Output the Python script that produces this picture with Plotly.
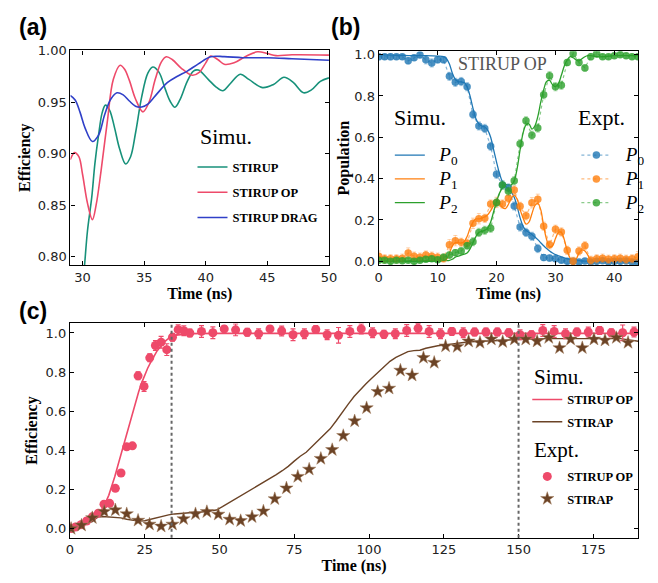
import plotly.graph_objects as go

# ---------------- Panel (a): simulated efficiency vs time ----------------
a_stirup_t = [29.95, 30.15, 30.4, 30.75, 31.0, 31.3, 31.6, 31.86, 32.2, 32.6, 33.0, 33.5, 33.9, 34.3, 34.8, 35.3, 35.7, 36.2,
              36.7, 37.1, 37.5, 37.9, 38.5, 39.0, 39.4, 40.2, 40.8, 41.4, 42.0, 42.8, 43.5, 44.6, 45.5, 46.35, 47.1,
              47.94, 48.6, 49.3, 50.0]
a_stirup_v = [0.765, 0.790, 0.825, 0.858, 0.890, 0.918, 0.940, 0.947, 0.942, 0.925, 0.905, 0.890, 0.897, 0.920, 0.955,
              0.978, 0.984, 0.979, 0.963, 0.951, 0.945, 0.952, 0.970, 0.980, 0.981, 0.972, 0.965, 0.961, 0.968, 0.977,
              0.972, 0.964, 0.967, 0.974, 0.969, 0.959, 0.962, 0.970, 0.9735]
a_op_t = [29.0, 29.35, 29.7, 30.0, 30.4, 30.8, 31.1, 31.5, 32.0, 32.5, 33.05, 33.4, 33.8, 34.3, 34.9, 35.4, 35.9, 36.4,
          36.8, 37.3, 38.0, 38.9, 39.5, 40.0, 40.4, 41.0, 41.5, 42.3, 43.2, 44.2, 45.0, 45.7, 47.0, 50.0]
a_op_v = [0.894, 0.901, 0.897, 0.880, 0.852, 0.836, 0.850, 0.883, 0.930, 0.972, 0.9857, 0.982, 0.971, 0.953, 0.9405,
          0.950, 0.972, 0.989, 0.9939, 0.991, 0.983, 0.976, 0.979, 0.988, 0.9946, 0.991, 0.9866, 0.988, 0.994, 0.9987,
          0.997, 0.995, 0.9958, 0.9955]
a_drag_t = [29.0, 29.4, 29.8, 30.2, 30.8, 31.3, 31.8, 32.3, 32.8, 33.3, 33.8, 34.3, 34.8, 35.3, 35.9, 36.9, 37.7, 38.5,
            39.4, 40.4, 41.5, 43.0, 45.0, 47.0, 50.0]
a_drag_v = [0.9564, 0.952, 0.940, 0.925, 0.9118, 0.918, 0.938, 0.953, 0.959, 0.957, 0.951, 0.946, 0.9452, 0.948, 0.956,
            0.969, 0.975, 0.980, 0.987, 0.9939, 0.994, 0.993, 0.9929, 0.992, 0.9905]

# ---------------- Panel (b): STIRUP OP populations ----------------
b_t_exp = [0, 1, 2, 3, 4, 5, 6, 7, 8, 9, 10, 11, 12, 13, 14, 15, 16, 17, 18, 19, 20, 21, 22,
           23, 24, 25, 26, 27, 28, 29, 30, 31, 32, 33, 34, 35, 36, 37, 38, 39, 40, 41, 42, 43, 44]
b_p0_exp = [0.99, 0.99, 0.99, 0.99, 0.99, 0.97, 0.985, 0.998, 0.975, 0.96, 0.975, 0.975, 0.895, 0.866, 0.87, 0.845,
            0.71, 0.655, 0.643, 0.557, 0.421, 0.369, 0.355, 0.268, 0.166, 0.14, 0.121, 0.062, 0.018, 0.016, 0.013,
            0.005, 0.0, 0.0, -0.003, 0.002, -0.003, 0.0, 0.003, -0.002, 0.0, 0.0, 0.002, -0.003, -0.004]
b_p1_exp = [0.025, 0.012, 0.012, 0.012, 0.015, 0.04, 0.025, 0.02, 0.03, 0.025, 0.02, 0.015, 0.08, 0.10, 0.092, 0.088,
            0.184, 0.206, 0.208, 0.277, 0.285, 0.277, 0.305, 0.345, 0.266, 0.22, 0.283, 0.30, 0.17, 0.08, 0.155, 0.142,
            0.053, 0.0, 0.05, 0.075, 0.005, 0.012, 0.015, 0.01, 0.012, 0.015, 0.01, 0.012, 0.022]
b_p2_exp = [0.005, 0.005, 0.0, 0.005, 0.003, 0.005, 0.0, 0.005, 0.01, 0.012, 0.008, 0.02, 0.03, 0.042, 0.05, 0.075,
            0.095, 0.14, 0.15, 0.16, 0.285, 0.369, 0.34, 0.39, 0.569, 0.68, 0.61, 0.645, 0.806, 0.898, 0.845, 0.852,
            0.962, 1.005, 0.962, 0.936, 0.99, 1.005, 0.99, 0.99, 0.995, 1.0, 0.995, 0.99, 0.99]
b_p0_err = [0.015, 0.012, 0.015, 0.012, 0.012, 0.015, 0.012, 0.012, 0.02, 0.02, 0.015, 0.015, 0.02, 0.02, 0.02, 0.02,
            0.02, 0.02, 0.02, 0.02, 0.02, 0.02, 0.02, 0.02, 0.02, 0.02, 0.02, 0.02, 0.015, 0.015, 0.012, 0.012,
            0.01, 0.01, 0.01, 0.01, 0.01, 0.01, 0.01, 0.01, 0.01, 0.01, 0.01, 0.01, 0.01]
b_p1_err = [0.025, 0.02, 0.02, 0.02, 0.02, 0.025, 0.02, 0.02, 0.02, 0.02, 0.02, 0.02, 0.025, 0.025, 0.02, 0.02,
            0.025, 0.025, 0.02, 0.02, 0.025, 0.02, 0.02, 0.02, 0.02, 0.02, 0.025, 0.025, 0.02, 0.02, 0.02, 0.02,
            0.02, 0.02, 0.02, 0.02, 0.02, 0.02, 0.02, 0.02, 0.02, 0.02, 0.02, 0.02, 0.025]
b_p2_err = [0.01, 0.01, 0.01, 0.01, 0.01, 0.01, 0.01, 0.01, 0.012, 0.012, 0.012, 0.015, 0.015, 0.015, 0.015, 0.015,
            0.02, 0.02, 0.02, 0.02, 0.02, 0.02, 0.02, 0.02, 0.02, 0.02, 0.02, 0.02, 0.02, 0.02, 0.02, 0.02,
            0.015, 0.015, 0.015, 0.015, 0.015, 0.015, 0.012, 0.012, 0.012, 0.012, 0.012, 0.012, 0.012]

b_t_sim = [0, 2, 4, 6, 8, 10, 11, 11.5, 12, 12.5, 13, 13.5, 14, 14.5, 15, 15.5, 16, 16.5, 17, 17.5, 18, 18.5, 19,
           19.5, 20, 20.5, 21, 21.5, 22, 22.5, 23, 23.5, 24, 24.5, 25, 25.5, 26, 26.5, 27, 27.5, 28, 28.5, 29, 29.5,
           30, 30.5, 31, 31.5, 32, 32.5, 33, 33.5, 34, 34.5, 35, 35.5, 36, 37, 38, 40, 42, 44]
b_p0_sim = [1.0, 0.998, 0.996, 0.995, 0.995, 0.993, 0.99, 0.98, 0.955, 0.91, 0.88, 0.87, 0.868, 0.865, 0.845, 0.80,
            0.74, 0.69, 0.665, 0.655, 0.65, 0.635, 0.60, 0.54, 0.48, 0.425, 0.385, 0.365, 0.35, 0.335, 0.31, 0.265,
            0.21, 0.17, 0.15, 0.14, 0.13, 0.118, 0.105, 0.09, 0.075, 0.062, 0.05, 0.04, 0.032, 0.027, 0.022, 0.017,
            0.013, 0.01, 0.007, 0.005, 0.003, 0.002, 0.001, 0.0, 0.0, 0.0, 0.0, 0.002, 0.001, 0.0]
b_p1_sim = [0.0, 0.0, 0.001, 0.002, 0.003, 0.004, 0.005, 0.01, 0.04, 0.075, 0.09, 0.09, 0.088, 0.095, 0.12, 0.16,
            0.19, 0.205, 0.205, 0.21, 0.215, 0.225, 0.245, 0.27, 0.285, 0.28, 0.26, 0.255, 0.275, 0.305, 0.32, 0.30,
            0.25, 0.21, 0.18, 0.19, 0.23, 0.27, 0.28, 0.25, 0.17, 0.105, 0.07, 0.075, 0.11, 0.14, 0.14, 0.105, 0.05,
            0.015, 0.0, 0.01, 0.04, 0.055, 0.05, 0.03, 0.005, 0.0, 0.002, 0.005, 0.004, 0.003]
b_p2_sim = [0.0, 0.0, 0.0, 0.0, 0.0, 0.001, 0.002, 0.003, 0.005, 0.01, 0.02, 0.025, 0.03, 0.035, 0.04, 0.06, 0.09,
            0.12, 0.14, 0.145, 0.15, 0.16, 0.19, 0.24, 0.29, 0.33, 0.355, 0.37, 0.37, 0.37, 0.39, 0.45, 0.54, 0.62,
            0.66, 0.665, 0.64, 0.655, 0.70, 0.77, 0.83, 0.87, 0.875, 0.855, 0.845, 0.86, 0.90, 0.945, 0.975, 0.99,
            0.985, 0.975, 0.97, 0.98, 0.99, 0.995, 0.995, 0.99, 0.99, 0.995, 0.995, 0.995]

# ---------------- Panel (c): efficiency STIRUP OP vs STIRAP ----------------
c_op_t_exp = [0.4, 1.9, 3.7, 5.6, 7.5, 9.5, 11.4, 13.3, 15.2, 17.1, 19.0, 20.9, 22.8, 24.8, 26.7, 28.6, 30.5, 32.4,
              34.3, 36.2, 38.1, 40.1, 44.0, 47.8, 51.6, 55.4, 59.3, 63.1, 66.9, 70.8, 74.6, 78.4, 82.2, 86.0, 89.8,
              93.6, 97.4, 101.2, 105.0, 108.8, 112.6, 116.4, 120.1, 123.9, 127.7, 131.5, 135.3, 139.1, 142.9, 146.7,
              150.5, 154.3, 158.1, 161.9, 165.7, 169.5, 173.3, 177.1, 181.0, 184.8, 188.6]
c_op_v_exp = [0.0, 0.008, 0.02, 0.039, 0.06, 0.079, 0.125, 0.129, 0.206, 0.284, 0.418, 0.423, 0.781, 0.727, 0.873,
              0.936, 0.953, 0.915, 0.978, 1.017, 1.012, 1.0, 1.008, 1.001, 1.021, 1.016, 1.004, 0.996, 1.021, 1.01,
              0.991, 0.996, 1.018, 0.991, 0.988, 1.008, 1.021, 1.001, 0.993, 0.996, 1.013, 1.024, 1.008, 0.996, 1.008,
              1.001, 1.005, 1.005, 1.005, 1.001, 0.991, 0.991, 1.013, 1.008, 0.996, 1.005, 1.005, 1.013, 1.001, 1.001,
              1.005]
c_op_err = [0.005, 0.005, 0.008, 0.008, 0.01, 0.01, 0.012, 0.012, 0.012, 0.012, 0.012, 0.012, 0.02, 0.025, 0.02,
            0.025, 0.03, 0.03, 0.02, 0.025, 0.025, 0.02, 0.03, 0.03, 0.015, 0.03, 0.02, 0.025, 0.015, 0.025, 0.03,
            0.025, 0.02, 0.025, 0.04, 0.03, 0.025, 0.025, 0.02, 0.025, 0.03, 0.025, 0.03, 0.025, 0.02, 0.025, 0.02,
            0.02, 0.02, 0.02, 0.025, 0.02, 0.03, 0.03, 0.025, 0.02, 0.025, 0.02, 0.02, 0.04, 0.025]
c_stirap_t_exp = [0.4, 3.9, 7.5, 11.5, 15.2, 19.0, 22.8, 26.6, 30.5, 34.3, 38.0, 42.0, 45.8, 49.6, 53.4, 57.1, 60.9,
                  64.7, 68.5, 72.4, 76.2, 80.0, 83.9, 87.7, 91.4, 95.2, 99.2, 102.9, 106.7, 110.5, 114.4, 118.2,
                  121.8, 125.6, 129.5, 133.3, 137.1, 140.9, 144.7, 148.6, 152.4, 156.2, 160.1, 163.7, 167.4, 171.3,
                  175.2, 178.9, 182.7, 186.6]
c_stirap_v_exp = [0.0, 0.017, 0.055, 0.087, 0.095, 0.075, 0.042, 0.022, 0.012, 0.022, 0.05, 0.075, 0.086, 0.073,
                  0.047, 0.040, 0.060, 0.089, 0.152, 0.207, 0.266, 0.303, 0.358, 0.403, 0.475, 0.55, 0.617, 0.70,
                  0.717, 0.809, 0.784, 0.874, 0.849, 0.933, 0.930, 0.958, 0.951, 0.968, 0.955, 0.968, 0.968, 0.958,
                  0.976, 0.924, 0.968, 0.924, 0.968, 0.963, 0.976, 0.951]
c_stirap_err = [0.008, 0.008, 0.008, 0.008, 0.008, 0.008, 0.008, 0.008, 0.008, 0.008, 0.008, 0.008,
                0.008, 0.008, 0.008, 0.008, 0.008, 0.008, 0.008, 0.008, 0.008, 0.008, 0.008, 0.008,
                0.008, 0.008, 0.008, 0.008, 0.008, 0.008, 0.008, 0.008, 0.008, 0.008, 0.008, 0.008,
                0.008, 0.008, 0.008, 0.008, 0.008, 0.008, 0.008, 0.008, 0.008, 0.008, 0.008, 0.008,
                0.008, 0.008]
c_op_t_sim = [0, 2, 4, 6, 8, 10, 11, 12, 13, 14, 15, 16, 17, 18, 19, 20, 21, 22, 23, 24, 25, 26, 27, 28, 29, 30, 31,
              32, 33, 34, 36, 38, 40, 50, 100, 150, 190]
c_op_v_sim = [0.0, 0.01, 0.02, 0.035, 0.05, 0.08, 0.105, 0.135, 0.17, 0.215, 0.265, 0.32, 0.375, 0.43, 0.49, 0.545,
              0.60, 0.65, 0.70, 0.745, 0.785, 0.82, 0.85, 0.88, 0.905, 0.925, 0.945, 0.96, 0.972, 0.98, 0.99, 0.995,
              0.997, 0.998, 0.998, 0.998, 0.998]
c_stirap_t_sim = [0, 2, 4, 6, 7.5, 8.5, 9.5, 11, 13, 15, 17, 19, 21, 23, 25, 27, 29, 31, 33, 35, 38, 41, 44, 47, 49,
                  51, 53, 55, 57, 59, 61, 63, 65, 67, 69, 71, 73, 75, 77, 79, 81, 83, 85, 87, 89, 91, 93, 95, 97,
                  99, 101, 103, 105, 107, 109, 111, 113, 115, 117, 119, 121, 123, 125, 128, 131, 134, 138, 142, 146,
                  150, 155, 160, 165, 170, 175, 180, 184, 187, 190]
c_stirap_v_sim = [0.0, 0.01, 0.02, 0.028, 0.035, 0.05, 0.06, 0.062, 0.06, 0.058, 0.055, 0.048, 0.042, 0.038, 0.04,
                  0.048, 0.056, 0.063, 0.07, 0.075, 0.08, 0.082, 0.085, 0.09, 0.095, 0.112, 0.13, 0.147, 0.164,
                  0.182, 0.20, 0.218, 0.238, 0.258, 0.276, 0.296, 0.318, 0.345, 0.37, 0.39, 0.42, 0.45, 0.475, 0.51,
                  0.55, 0.595, 0.635, 0.675, 0.71, 0.74, 0.77, 0.80, 0.83, 0.855, 0.875, 0.89, 0.905, 0.91, 0.912,
                  0.922, 0.93, 0.935, 0.938, 0.945, 0.95, 0.955, 0.958, 0.962, 0.965, 0.968, 0.97, 0.971, 0.971,
                  0.969, 0.968, 0.968, 0.971, 0.965, 0.958]
c_marks_ns = [34, 150]

# ---------------- styles ----------------
TEAL = "#17917a"
PINK = "#ee4a6a"
BLUE = "#3040c8"
BROWN = "#6b4326"
C0, C1, C2 = (31, 119, 180), (255, 127, 14), (44, 160, 44)


def rgba(c, a):
    return f"rgba({c[0]},{c[1]},{c[2]},{a})"


SERIF = "Liberation Serif"
SANS = "DejaVu Sans"
NB = "\u00a0"

fig = go.Figure()

# panel (a)
for name, t, v, col in [("STIRUP", a_stirup_t, a_stirup_v, TEAL),
                        ("STIRUP OP", a_op_t, a_op_v, PINK),
                        ("STIRUP DRAG", a_drag_t, a_drag_v, BLUE)]:
    fig.add_trace(go.Scatter(x=t, y=v, mode="lines", name=name, line=dict(color=col, width=1.6, shape="spline"),
                             xaxis="x", yaxis="y", legend="legend", legendgroup="a" + name))


def pname(k):
    return f"<span style='font-size:19px'>{NB}{NB}<i>P</i><sub>{k}</sub></span>"


# panel (b) simulation
for k, (v, c) in enumerate([(b_p0_sim, C0), (b_p1_sim, C1), (b_p2_sim, C2)]):
    fig.add_trace(go.Scatter(x=b_t_sim, y=v, mode="lines", name=pname(k),
                             line=dict(color=rgba(c, 1), width=1.3, shape="spline"),
                             xaxis="x2", yaxis="y2", legend="legend2", legendgroup=f"bs{k}"))
# panel (b) experiment
for k, (v, e, c) in enumerate([(b_p0_exp, b_p0_err, C0), (b_p1_exp, b_p1_err, C1), (b_p2_exp, b_p2_err, C2)]):
    fig.add_trace(go.Scatter(x=b_t_exp, y=v, mode="lines+markers", name=pname(k),
                             line=dict(color=rgba(c, 0.55), width=1.2, dash="dot"),
                             marker=dict(color=rgba(c, 0.8), size=7.5),
                             error_y=dict(type="data", array=e, color=rgba(c, 0.35), thickness=1, width=2),
                             xaxis="x2", yaxis="y2", legend="legend3", legendgroup=f"be{k}"))

# panel (c)
for xm in c_marks_ns:
    fig.add_shape(type="line", x0=xm, x1=xm, y0=0, y1=1, xref="x3", yref="y3 domain",
                  line=dict(color="#666666", width=2, dash="dot"))
fig.add_trace(go.Scatter(x=c_op_t_sim, y=c_op_v_sim, mode="lines", name="STIRUP OP",
                         line=dict(color=PINK, width=1.6), xaxis="x3", yaxis="y3",
                         legend="legend4", legendgroup="cs1"))
fig.add_trace(go.Scatter(x=c_stirap_t_sim, y=c_stirap_v_sim, mode="lines", name="STIRAP",
                         line=dict(color=BROWN, width=1.4), xaxis="x3", yaxis="y3",
                         legend="legend4", legendgroup="cs2"))
fig.add_trace(go.Scatter(x=c_op_t_exp, y=c_op_v_exp, mode="markers", name="STIRUP OP",
                         marker=dict(color=PINK, size=9),
                         error_y=dict(type="data", array=c_op_err, color=PINK, thickness=1.2, width=2.5),
                         xaxis="x3", yaxis="y3", legend="legend5", legendgroup="ce1"))
fig.add_trace(go.Scatter(x=c_stirap_t_exp, y=c_stirap_v_exp, mode="markers", name="STIRAP",
                         marker=dict(color=BROWN, size=10, symbol="star", line=dict(color="#a07a5a", width=0.5)),
                         error_y=dict(type="data", array=c_stirap_err, color=BROWN, thickness=1.2, width=2.5),
                         xaxis="x3", yaxis="y3", legend="legend5", legendgroup="ce2"))

# ---------------- axes ----------------
W, H = 658, 583


def px_x(p):
    return p / W


def px_y(p):
    return 1 - p / H


axis_common = dict(showline=True, linecolor="black", linewidth=1.2, mirror="ticks", ticks="inside",
                   ticklen=4, tickcolor="black", showgrid=False, zeroline=False,
                   tickfont=dict(family=SANS, size=13, color="#222222"))
title_font = dict(family=SERIF, size=16, color="black", weight="bold")

fig.update_layout(
    width=W, height=H, margin=dict(l=0, r=0, t=0, b=0),
    paper_bgcolor="white", plot_bgcolor="white", showlegend=True,
    xaxis=dict(domain=[px_x(67.7), px_x(331)], range=[29.02, 50], tickvals=[30, 35, 40, 45, 50],
               title=dict(text="Time (ns)", font=title_font, standoff=0), anchor="y", **axis_common),
    yaxis=dict(domain=[px_y(263), px_y(44.3)], range=[0.792, 1.0], tickvals=[0.8, 0.85, 0.9, 0.95, 1.0],
               tickformat=".2f", title=dict(text="Efficiency", font=title_font, standoff=3), anchor="x",
               **axis_common),
    xaxis2=dict(domain=[px_x(381.7), px_x(646)], range=[0, 44.05], tickvals=[0, 10, 20, 30, 40],
                title=dict(text="Time (ns)", font=title_font, standoff=0), anchor="y2", **axis_common),
    yaxis2=dict(domain=[px_y(263), px_y(45)], range=[-0.018, 1.017], tickvals=[0, 0.2, 0.4, 0.6, 0.8, 1.0],
                tickformat=".1f", title=dict(text="Population", font=title_font, standoff=0), anchor="x2",
                **axis_common),
    xaxis3=dict(domain=[px_x(67.1), px_x(646)], range=[0, 190], tickvals=[0, 25, 50, 75, 100, 125, 150, 175],
                title=dict(text="Time (ns)", font=title_font, standoff=1), anchor="y3", **axis_common),
    yaxis3=dict(domain=[px_y(541), px_y(322.3)], range=[-0.047, 1.05], tickvals=[0, 0.2, 0.4, 0.6, 0.8, 1.0],
                tickformat=".1f", title=dict(text="Efficiency", font=title_font, standoff=3), anchor="x3",
                **axis_common),
)

leg_item_bold = dict(family=SERIF, size=12.5, color="black", weight="bold")
leg_common = dict(xanchor="left", yanchor="middle", bgcolor="rgba(0,0,0,0)", itemwidth=30, borderwidth=0)
fig.update_layout(
    legend=dict(x=px_x(192), y=px_y(189), font=leg_item_bold, tracegroupgap=6, traceorder="grouped",
                **leg_common),
    legend2=dict(x=px_x(393), y=px_y(175.5), font=dict(family=SERIF, size=16, color="black"),
                 tracegroupgap=0, traceorder="grouped", **leg_common),
    legend3=dict(x=px_x(583), y=px_y(175.5), font=dict(family=SERIF, size=16, color="black"),
                 tracegroupgap=0, traceorder="grouped", **leg_common),
    legend4=dict(x=px_x(533), y=px_y(411.7), font=leg_item_bold, tracegroupgap=3, traceorder="grouped",
                 **leg_common),
    legend5=dict(x=px_x(533), y=px_y(490), font=leg_item_bold, tracegroupgap=3, traceorder="grouped",
                 **leg_common),
)

# legend headings, panel labels and inset text
for txt, xp, yp, fs in [("Simu.", 198, 132, 22), ("Simu.", 395, 113, 22), ("Expt.", 583, 113, 22),
                        ("Simu.", 538, 377, 21), ("Expt.", 538, 451.5, 21)]:
    fig.add_annotation(text=txt, x=px_x(xp), y=px_y(yp), xref="paper", yref="paper", xanchor="left",
                       yanchor="middle", showarrow=False, font=dict(family=SERIF, size=fs, color="black"))
label_font = dict(family="Liberation Sans", size=23, color="black", weight="bold")
for txt, xp, yp in [("(a)", 13, 20), ("(b)", 331, 20), ("(c)", 13, 310)]:
    fig.add_annotation(text=txt, x=px_x(xp), y=px_y(yp), xref="paper", yref="paper", xanchor="left",
                       yanchor="middle", showarrow=False, font=label_font)
fig.add_annotation(text="STIRUP OP", x=21, y=0.955, xref="x2", yref="y2", showarrow=False,
                   font=dict(family=SERIF, size=18, color="#555555"))

fig.write_html("out.html")
